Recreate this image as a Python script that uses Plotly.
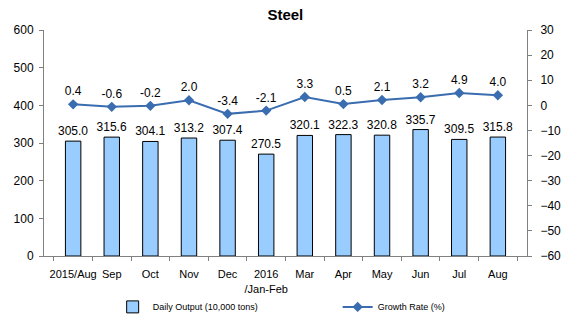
import plotly.graph_objects as go

categories = ["2015/Aug", "Sep", "Oct", "Nov", "Dec", "2016<br>/Jan-Feb",
              "Mar", "Apr", "May", "Jun", "Jul", "Aug"]
daily_output = [305.0, 315.6, 304.1, 313.2, 307.4, 270.5,
                320.1, 322.3, 320.8, 335.7, 309.5, 315.8]
growth_rate = [0.4, -0.6, -0.2, 2.0, -3.4, -2.1, 3.3, 0.5, 2.1, 3.2, 4.9, 4.0]

font_family = "Liberation Sans, Arial, sans-serif"

fig = go.Figure()
fig.add_trace(go.Bar(
    x=categories, y=daily_output, name="Daily Output (10,000 tons)",
    marker=dict(color="#99CCFF", line=dict(color="#000000", width=1)),
    width=0.4,
    text=[f"{v:.1f}" for v in daily_output], textposition="outside",
    constraintext="none",
    textfont=dict(size=12, color="#000000", family=font_family),
    cliponaxis=False,
))
fig.add_trace(go.Scatter(
    x=categories, y=growth_rate, name="Growth Rate (%)", yaxis="y2",
    mode="lines+markers+text",
    line=dict(color="#3A6DB0", width=2),
    marker=dict(symbol="diamond", size=8, color="#3A6DB0"),
    text=[f"{v:.1f}" for v in growth_rate], textposition="top center",
    textfont=dict(size=12, color="#000000", family=font_family),
    cliponaxis=False,
))

fig.update_layout(
    width=565, height=321,
    margin=dict(l=44, r=38, t=30, b=65, autoexpand=False),
    paper_bgcolor="white", plot_bgcolor="white",
    font=dict(family=font_family, size=12, color="#000000"),
    title=dict(text="<b>Steel</b>", x=0.505, xanchor="center", y=0.955, yanchor="middle",
               font=dict(size=15, family=font_family)),
    bargap=0.6,
    showlegend=True,
    legend=dict(orientation="h", x=0.608, xanchor="center",
                yref="container", y=0.044, yanchor="middle",
                bgcolor="rgba(0,0,0,0)",
                font=dict(size=9, family=font_family),
                entrywidth=180, traceorder="normal"),
    xaxis=dict(showline=True, linecolor="#808080", linewidth=1, automargin=False,
               ticks="outside", tickson="boundaries", ticklen=4, tickcolor="#808080",
               tickangle=0, tickfont=dict(size=11), showgrid=False,
               ticklabelstandoff=8),
    yaxis=dict(range=[0, 600], dtick=100, showline=True, linecolor="#808080", linewidth=1,
               ticks="outside", ticklen=4, tickcolor="#808080", showgrid=False,
               zeroline=False, tickfont=dict(size=12), automargin=False,
               ticklabelstandoff=3),
    yaxis2=dict(range=[-60, 30], dtick=10, overlaying="y", side="right",
                showline=True, linecolor="#808080", linewidth=1,
                ticks="outside", ticklen=4, tickcolor="#808080", showgrid=False,
                zeroline=False, tickfont=dict(size=12), automargin=False,
                ticklabelstandoff=6),
)

fig.write_html("out.html")
